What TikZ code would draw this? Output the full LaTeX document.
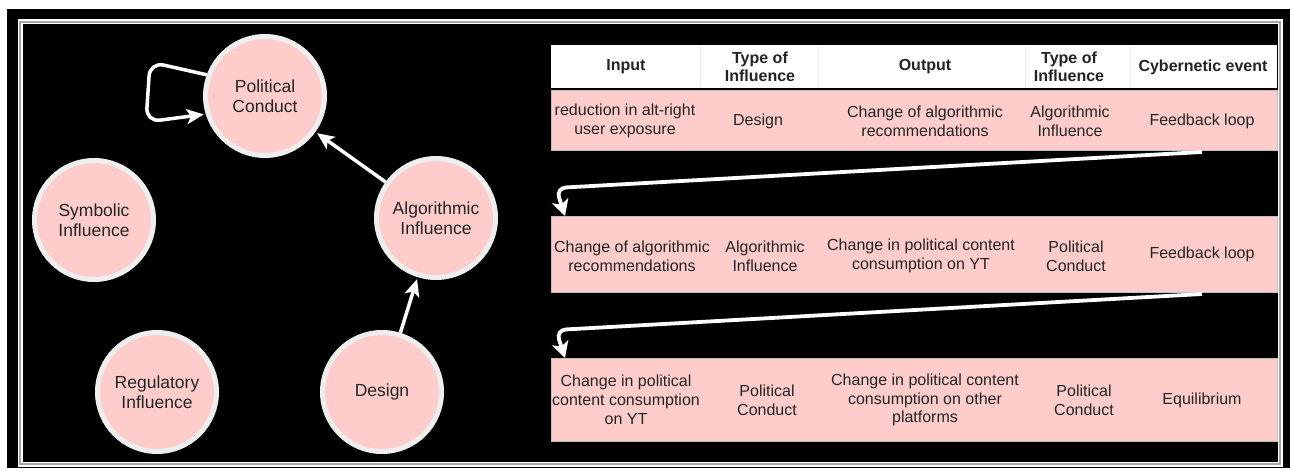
\documentclass[tikz,border=0pt]{standalone}
\usepackage{fontspec}
\setmainfont{Liberation Sans}
\usetikzlibrary{arrows.meta,calc}
\definecolor{pinkfill}{RGB}{255,204,204}
\definecolor{ringc}{RGB}{238,238,238}
\definecolor{txtc}{RGB}{35,35,35}
\begin{document}
\begin{tikzpicture}[x=1pt,y=-1pt,
  circ/.style={circle, draw=ringc, line width=5pt, fill=pinkfill, minimum size=119pt,
    inner sep=0pt, align=center, text=txtc, font=\fontsize{17.5}{20}\selectfont},
  conn/.style={draw=white, line width=3.5pt, shorten >=2pt,
    -{Stealth[length=17pt,width=15pt,inset=4pt]}},
  tarrow/.style={draw=white, line width=3.8pt, rounded corners=10pt,
    -{Stealth[length=16pt,width=17pt,inset=4pt]}},
  rowbox/.style={fill=pinkfill, draw=black!25, line width=0.6pt, minimum width=726pt, inner sep=0pt},
  hdrbox/.style={fill=white, draw=none, minimum width=726pt, minimum height=43pt, inner sep=0pt},
  hd/.style={font=\bfseries\fontsize{16}{18}\selectfont, align=center, text=txtc, inner sep=0pt},
  cell/.style={font=\fontsize{16}{18.8}\selectfont, align=center, text=txtc, inner sep=0pt},
  sep/.style={draw=black!7, line width=1pt}
]
\useasboundingbox (0,0) rectangle (1290,473);
\fill[white] (0,0) rectangle (1290,473);
\fill[black] (7,9) rectangle (1290,468);
\draw[white, line width=5pt] (20,22) rectangle (1280,464);
\draw[gray!70, line width=1.5pt] (20,22) rectangle (1280,464);

% circles
\node[circ] (pc) at (265,96) {Political\\Conduct};
\node[circ] (si) at (94,220) {Symbolic\\Influence};
\node[circ] (ri) at (157,392) {Regulatory\\Influence};
\node[circ] (de) at (382,392) {Design};
\node[circ] (ai) at (436,218) {Algorithmic\\Influence};

\draw[conn] (de) -- (ai);
\draw[conn] (ai) -- (pc);
\draw[conn, rounded corners=14pt] (pc.160) -- (150,62) -- (146,122) -- (pc.197);

% table
\node[hdrbox] (hdr) at (914,66.5) {};
\draw[sep] (700,46) -- (700,87);
\draw[sep] (818,46) -- (818,87);
\draw[sep] (1025,46) -- (1025,87);
\draw[sep] (1130,46) -- (1130,87);
\node[rowbox, minimum height=60pt] (r1) at (914,120) {};
\node[rowbox, minimum height=76pt] (r2) at (914,254) {};
\node[rowbox, minimum height=83pt] (r3) at (914,399.5) {};

\node[hd] (h1) at (626,67) {Input};
\node[hd] (h2) at (760,67) {Type of\\Influence};
\node[hd] (h3) at (925,67) {Output};
\node[hd] (h4) at (1069,67) {Type of\\Influence};
\node[hd] (h5) at (1203,67) {Cybernetic event};

\node[cell] (c11) at (625,121) {reduction in alt-right\\user exposure};
\node[cell] (c12) at (758,121) {Design};
\node[cell] (c13) at (925,121) {Change of algorithmic\\recommendations};
\node[cell] (c14) at (1070,121) {Algorithmic\\Influence};
\node[cell] (c15) at (1202,121) {Feedback loop};

\node[cell] (c21) at (632,256) {Change of algorithmic\\recommendations};
\node[cell] (c22) at (765,256) {Algorithmic\\Influence};
\node[cell] (c23) at (921,256) {Change in political content\\consumption on YT};
\node[cell] (c24) at (1076,256) {Political\\Conduct};
\node[cell] (c25) at (1202,254) {Feedback loop};

\node[cell] (c31) at (626,400) {Change in political\\content consumption\\on YT};
\node[cell] (c32) at (767,400) {Political\\Conduct};
\node[cell] (c33) at (925,400) {Change in political content\\consumption on other\\platforms};
\node[cell] (c34) at (1084,400) {Political\\Conduct};
\node[cell] (c35) at (1202,400) {Equilibrium};

% table arrows
\coordinate (a1s) at (1202,152);
\coordinate (a1b) at (556,188);
\coordinate (a1e) at (565,216);
\coordinate (a2s) at (1202,294);
\coordinate (a2b) at (556,330);
\coordinate (a2e) at (565,358);
\draw[tarrow] (a1s) -- (a1b) -- (a1e);
\draw[tarrow] (a2s) -- (a2b) -- (a2e);
\end{tikzpicture}
\end{document}
